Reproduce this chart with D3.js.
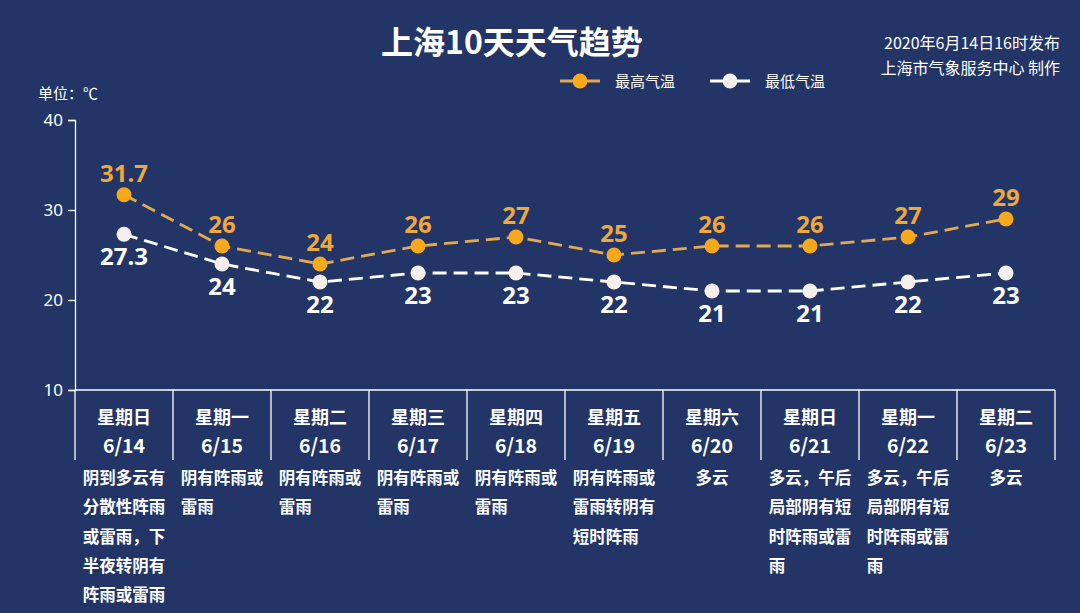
<!DOCTYPE html>
<html>
<head>
<meta charset="utf-8">
<script src="https://cdn.jsdelivr.net/npm/d3@7"></script>
<style>
  html, body { margin: 0; padding: 0; background: #233566; }
  svg { display: block; font-family: "Noto Sans CJK SC", "Noto Sans", sans-serif; }
</style>
</head>
<body>
<svg id="chart"></svg>
<script>
// data
const weekdays = ["星期日", "星期一", "星期二", "星期三", "星期四", "星期五", "星期六", "星期日", "星期一", "星期二"];
const dates = ["6/14", "6/15", "6/16", "6/17", "6/18", "6/19", "6/20", "6/21", "6/22", "6/23"];
const highTemps = [31.7, 26, 24, 26, 27, 25, 26, 26, 27, 29];
const lowTemps = [27.3, 24, 22, 23, 23, 22, 21, 21, 22, 23];
const weatherLines = [
  ["阴到多云有", "分散性阵雨", "或雷雨，下", "半夜转阴有", "阵雨或雷雨"],
  ["阴有阵雨或", "雷雨"],
  ["阴有阵雨或", "雷雨"],
  ["阴有阵雨或", "雷雨"],
  ["阴有阵雨或", "雷雨"],
  ["阴有阵雨或", "雷雨转阴有", "短时阵雨"],
  ["多云"],
  ["多云，午后", "局部阴有短", "时阵雨或雷", "雨"],
  ["多云，午后", "局部阴有短", "时阵雨或雷", "雨"],
  ["多云"]
];
const yTicks = [10, 20, 30, 40];

const W = 1080, H = 613;
const C = {
  BG: "#233566",
  HIGH: "#F7A81B",
  HIGH_LINE: "#E2A94E",
  HIGH_TEXT: "#EDA93A",
  LOW: "#F4EEEC",
  LOW_LINE: "#FFFFFF",
  TEXT: "#FFFFFF"
};
const LEFT = 75, RIGHT = 1055, TOP = 120, BOTTOM = 390;

const svg = d3.select("#chart").attr("width", W).attr("height", H);
svg.append("rect").attr("width", W).attr("height", H).attr("fill", C.BG);

/* Scales */
const xScale = d3.scaleBand().domain(d3.range(dates.length)).range([LEFT, RIGHT]);
const yScale = d3.scaleLinear().domain([10, 40]).range([BOTTOM, TOP]);
const cx = i => xScale(i) + xScale.bandwidth() / 2;

/* Title and notes */
svg.append("text")
  .attr("x", 512).attr("y", 54)
  .attr("text-anchor", "middle")
  .attr("fill", C.TEXT)
  .attr("font-size", 32).attr("font-weight", "bold")
  .text("上海10天天气趋势");

svg.append("text")
  .attr("x", 1060).attr("y", 49)
  .attr("text-anchor", "end").attr("fill", C.TEXT).attr("font-size", 16)
  .text("2020年6月14日16时发布");
svg.append("text")
  .attr("x", 1060).attr("y", 74)
  .attr("text-anchor", "end").attr("fill", C.TEXT).attr("font-size", 16)
  .text("上海市气象服务中心 制作");

svg.append("text")
  .attr("x", 38).attr("y", 99)
  .attr("fill", C.TEXT).attr("font-size", 15)
  .text("单位：℃");

/* Legend */
const legend = [
  { name: "最高气温", line: C.HIGH_LINE, dot: C.HIGH, x: 560 },
  { name: "最低气温", line: C.LOW_LINE, dot: C.LOW, x: 710 }
];
const lg = svg.append("g").attr("class", "legend");
legend.forEach(d => {
  lg.append("line")
    .attr("x1", d.x).attr("x2", d.x + 40).attr("y1", 81).attr("y2", 81)
    .attr("stroke", d.line).attr("stroke-width", 3);
  lg.append("circle")
    .attr("cx", d.x + 20).attr("cy", 81).attr("r", 7.5)
    .attr("fill", d.dot);
  lg.append("text")
    .attr("x", d.x + 55).attr("y", 86.5)
    .attr("fill", C.TEXT).attr("font-size", 15)
    .text(d.name);
});

/* Y axis */
const yAxis = d3.axisLeft(yScale).tickValues(yTicks).tickSize(7).tickPadding(5);
const yg = svg.append("g")
  .attr("transform", `translate(${LEFT},0)`)
  .attr("font-size", 17)
  .call(yAxis);
yg.attr("font-size", 17).attr("font-family", "'Noto Sans', 'Noto Sans CJK SC', sans-serif");
yg.select(".domain").attr("stroke", C.TEXT).attr("stroke-width", 1.3);
yg.selectAll(".tick line").attr("stroke", C.TEXT).attr("stroke-width", 1.3);
yg.selectAll(".tick text").attr("fill", C.TEXT).style("font-size", "17px");

/* X axis: table of columns */
const xg = svg.append("g").attr("class", "xAxis");
xg.append("line")
  .attr("x1", LEFT).attr("x2", RIGHT).attr("y1", BOTTOM).attr("y2", BOTTOM)
  .attr("stroke", C.TEXT).attr("stroke-width", 1.3);
xg.selectAll(".divider")
  .data(d3.range(dates.length + 1)).enter()
  .append("line")
  .attr("class", "divider")
  .attr("x1", i => i < dates.length ? xScale(i) : RIGHT)
  .attr("x2", i => i < dates.length ? xScale(i) : RIGHT)
  .attr("y1", BOTTOM).attr("y2", 460)
  .attr("stroke", C.TEXT).attr("stroke-width", 1.3);

xg.selectAll(".weekday")
  .data(weekdays).enter()
  .append("text")
  .attr("class", "weekday")
  .attr("x", (d, i) => cx(i)).attr("y", 424)
  .attr("text-anchor", "middle").attr("fill", C.TEXT)
  .attr("font-size", 18).attr("font-weight", "bold")
  .text(d => d);

xg.selectAll(".date")
  .data(dates).enter()
  .append("text")
  .attr("class", "date")
  .attr("x", (d, i) => cx(i)).attr("y", 453)
  .attr("text-anchor", "middle").attr("fill", C.TEXT)
  .attr("font-size", 19.5).attr("font-weight", "bold")
  .text(d => d);

/* Weather descriptions: left aligned block, centred in the column */
weatherLines.forEach((lines, i) => {
  const g = xg.append("g");
  const texts = g.selectAll("text")
    .data(lines).enter()
    .append("text")
    .attr("y", (d, j) => 484 + j * 29.3)
    .attr("fill", C.TEXT)
    .attr("font-size", 16.5).attr("font-weight", "bold")
    .text(d => d);
  let maxW = 0;
  texts.each(function() { maxW = Math.max(maxW, this.getComputedTextLength()); });
  texts.attr("x", cx(i) - maxW / 2);
});

/* Lines */
const line = d3.line()
  .x((d, i) => cx(i))
  .y(d => yScale(d));

const series = [
  { values: highTemps, line: C.HIGH_LINE, dot: C.HIGH, text: C.HIGH_TEXT, dy: -13 },
  { values: lowTemps, line: C.LOW_LINE, dot: C.LOW, text: C.TEXT, dy: 31 }
];

series.forEach(s => {
  svg.append("path")
    .attr("d", line(s.values))
    .attr("fill", "none")
    .attr("stroke", s.line)
    .attr("stroke-width", 2.8)
    .attr("stroke-dasharray", "14,7");
});

series.forEach(s => {
  const g = svg.append("g");
  g.selectAll("circle")
    .data(s.values).enter()
    .append("circle")
    .attr("cx", (d, i) => cx(i))
    .attr("cy", d => yScale(d))
    .attr("r", 7.5)
    .attr("fill", s.dot);
  g.selectAll("text")
    .data(s.values).enter()
    .append("text")
    .attr("x", (d, i) => cx(i))
    .attr("y", d => yScale(d) + s.dy)
    .attr("text-anchor", "middle")
    .attr("fill", s.text)
    .attr("font-size", 24).attr("font-weight", "bold")
    .attr("font-family", "'Open Sans', 'Noto Sans', sans-serif")
    .text(d => d);
});
</script>
</body>
</html>
